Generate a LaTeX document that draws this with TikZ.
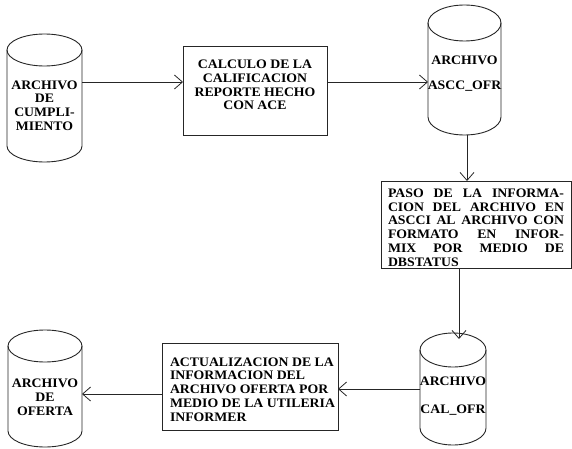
\documentclass[tikz,border=0pt]{standalone}
\usepackage{fontspec}
\setmainfont{Liberation Serif}
\newfontfamily\labfont{Liberation Serif}[FakeStretch=1.06]
\usetikzlibrary{arrows.meta}

% outline of a vertical drum (cylinder) around a named, empty node
% #1 node name, #2 horizontal radius, #3 vertical radius of the end ellipses
\newcommand\drumoutline[3]{%
  \draw[outline] ([yshift=-#3]#1.north west) -- ([yshift=#3]#1.south west)
    arc[start angle=180, end angle=360, x radius=#2, y radius=#3]
    -- ([yshift=-#3]#1.north east);
  \draw[outline] ([yshift=-#3]#1.north) ellipse[x radius=#2, y radius=#3];
}

\tikzset{
  outline/.style={line width=0.9pt, draw=black!85},
  drum/.style={draw=none, inner sep=0pt, outer sep=0pt},
  procbox/.style={draw=black!85, line width=0.9pt, inner sep=0pt, outer sep=0pt},
  label/.style={inner sep=0pt, outer sep=0pt,
    font=\labfont\bfseries\fontsize{13}{13.8}\selectfont},
  flow/.style={line width=0.8pt, draw=black!85,
    -{Straight Barb[length=8pt, width=14pt, line width=0.8pt]}},
}

\begin{document}
\begin{tikzpicture}[x=1pt, y=1pt]
  \useasboundingbox (0,0) rectangle (572,448);

  % data stores
  \node[drum, minimum width=75pt, minimum height=128pt] (c1) at (44.5,350) {};
  \drumoutline{c1}{37.5pt}{16pt}
  \node[label, align=center] (c1t) at (44.5,342.5) {ARCHIVO\\DE\\CUMPLI-\\MIENTO};

  \node[drum, minimum width=73pt, minimum height=130pt] (c2) at (464.5,378) {};
  \drumoutline{c2}{36.5pt}{18pt}
  \node[label, align=center] (c2t) at (464.5,374.5) {ARCHIVO\\[11pt]ASCC\_OFR};

  \node[drum, minimum width=66pt, minimum height=112pt] (c3) at (453,59) {};
  \drumoutline{c3}{33pt}{17pt}
  \node[label, align=center] (c3t) at (453,52) {ARCHIVO\\[14pt]CAL\_OFR};

  \node[drum, minimum width=74pt, minimum height=117pt] (c4) at (45,59.5) {};
  \drumoutline{c4}{37pt}{16pt}
  \node[label, align=center] (c4t) at (45,51) {ARCHIVO\\DE\\OFERTA};

  % processes
  \node[procbox, minimum width=144pt, minimum height=89pt] (b1) at (255,357.5) {};
  \node[label, align=center] (b1t) at (255,363)
    {CALCULO DE LA\\CALIFICACION\\REPORTE HECHO\\CON ACE};

  \node[procbox, minimum width=190pt, minimum height=87pt] (b2) at (476,223.5) {};
  \node[label, align=left] (b2t) at (476,220.5)
    {\makebox[176pt][s]{PASO DE LA INFORMA-}\\
     \makebox[176pt][s]{CION DEL ARCHIVO EN}\\
     \makebox[176pt][s]{ASCCI AL ARCHIVO CON}\\
     \makebox[176pt][s]{FORMATO EN INFOR-}\\
     \makebox[176pt][s]{MIX POR MEDIO DE}\\
     \makebox[176pt][l]{DBSTATUS}};

  \node[procbox, minimum width=176pt, minimum height=87pt] (b3) at (250,61.5) {};
  \node[label, align=left, anchor=west] (b3t) at (170,58.5)
    {ACTUALIZACION DE LA\\INFORMACION DEL\\ARCHIVO OFERTA POR\\MEDIO DE LA UTILERIA\\INFORMER};

  % flows
  \draw[flow] ([yshift=16pt]c1.east) -- ([yshift=16pt]c1.east -| b1.west);
  \draw[flow] ([yshift=16pt]c1.east -| b1.east) -- ([yshift=16pt]c1.east -| c2.west);
  \draw[flow] ([xshift=2.5pt]c2.south) -- ([xshift=2.5pt]c2.south |- b2.north);
  \draw[flow, shorten >=-6pt] ([xshift=-17pt]b2.south) -- ([xshift=-17pt]b2.south |- c3.north);
  \draw[flow] (c3.west) -- (c3.west -| b3.east);
  \draw[flow] ([yshift=-7.5pt]b3.west) -- ([yshift=-7.5pt]b3.west -| c4.east);
\end{tikzpicture}
\end{document}
